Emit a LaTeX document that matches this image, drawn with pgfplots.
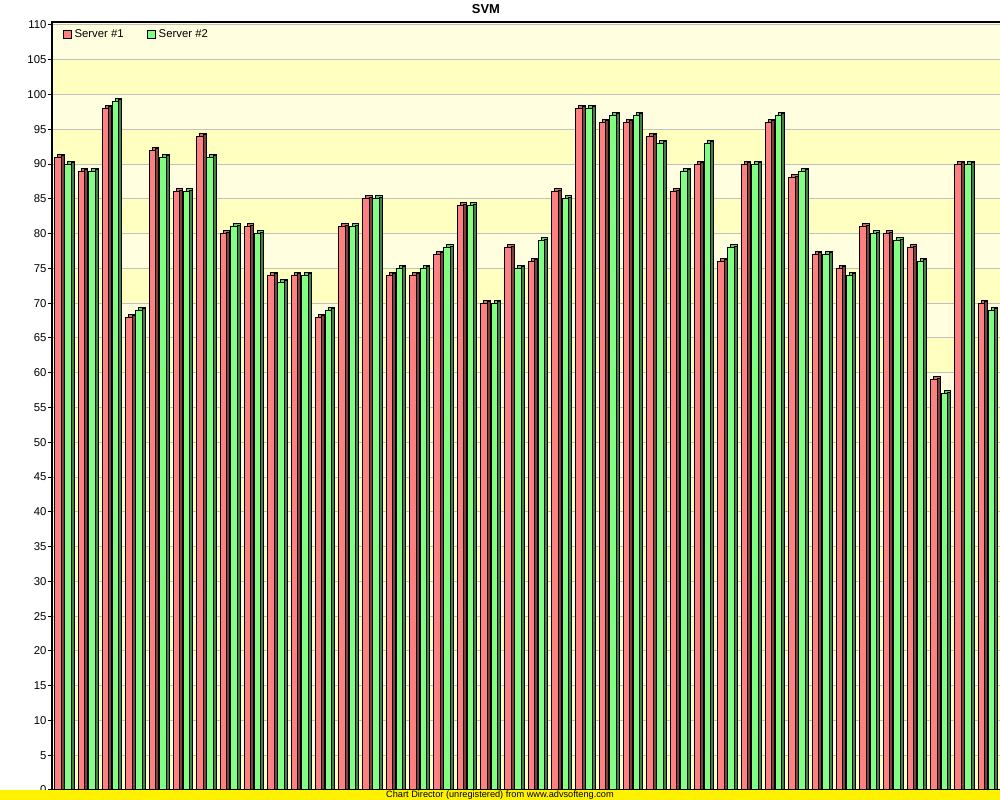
\documentclass[border=0pt]{standalone}
\usepackage{pgfplots}
\pgfplotsset{compat=1.18}
\usepackage{pgfplotstable}
\usepackage{fontspec}
\setmainfont{Liberation Sans}

\definecolor{redf}{HTML}{FF8080}
\definecolor{redt}{HTML}{D86868}
\definecolor{reds}{HTML}{804040}
\definecolor{grnf}{HTML}{80FF80}
\definecolor{grnt}{HTML}{60D060}
\definecolor{grns}{HTML}{408040}
\definecolor{bandlight}{HTML}{FFFFE0}
\definecolor{banddark}{HTML}{FFFFC0}
\definecolor{gridgray}{HTML}{C0C0C0}

% a = Server #1, b = Server #2
\pgfplotstableread{
x a b
1 91 90
2 89 89
3 98 99
4 68 69
5 92 91
6 86 86
7 94 91
8 80 81
9 81 80
10 74 73
11 74 74
12 68 69
13 81 81
14 85 85
15 74 75
16 74 75
17 77 78
18 84 84
19 70 70
20 78 75
21 76 79
22 86 85
23 98 98
24 96 97
25 96 97
26 94 93
27 86 89
28 90 93
29 76 78
30 90 90
31 96 97
32 88 89
33 77 77
34 75 74
35 81 80
36 80 79
37 78 76
38 59 57
39 90 90
40 70 69
}\scores

\begin{document}
\begin{tikzpicture}
\begin{axis}[
    at={(39pt,7.5pt)}, anchor=south west,
    scale only axis,
    width=712.2pt, height=576pt,
    set layers,
    ybar,
    xmin=0.5, xmax=40.6,
    ymin=0, ymax=110.43,
    xtick=\empty,
    ytick={0,5,...,110},
    ymajorgrids,
    grid style={draw=gridgray, line width=0.75pt},
    axis line style={black, line width=1pt},
    tick style={black, line width=0.75pt},
    major tick length=3pt,
    tick align=outside,
    ytick pos=left,
    tick label style={font=\fontsize{8.5}{10}\selectfont},
    /pgf/number format/assume math mode=true,
    yticklabel style={inner xsep=1pt},
    axis background/.style={fill=bandlight},
    legend columns=2,
    legend style={at={(0,1)}, anchor=north west, xshift=5pt, yshift=-1.5pt,
        draw=none, fill=none, font=\fontsize{8.5}{10}\selectfont,
        /tikz/every even column/.append style={column sep=15.5pt}},
  ]
  \begin{pgfonlayer}{axis background}
    \fill[banddark] (axis cs:0.5,0) rectangle (axis cs:40.6,5);
    \fill[banddark] (axis cs:0.5,10) rectangle (axis cs:40.6,15);
    \fill[banddark] (axis cs:0.5,20) rectangle (axis cs:40.6,25);
    \fill[banddark] (axis cs:0.5,30) rectangle (axis cs:40.6,35);
    \fill[banddark] (axis cs:0.5,40) rectangle (axis cs:40.6,45);
    \fill[banddark] (axis cs:0.5,50) rectangle (axis cs:40.6,55);
    \fill[banddark] (axis cs:0.5,60) rectangle (axis cs:40.6,65);
    \fill[banddark] (axis cs:0.5,70) rectangle (axis cs:40.6,75);
    \fill[banddark] (axis cs:0.5,80) rectangle (axis cs:40.6,85);
    \fill[banddark] (axis cs:0.5,90) rectangle (axis cs:40.6,95);
    \fill[banddark] (axis cs:0.5,100) rectangle (axis cs:40.6,105);
  \end{pgfonlayer}

  % Server #1: top/back, side, front
  \addplot[forget plot, fill=redt, draw=black, line width=0.75pt,
    bar width=4.875pt, bar shift=-2.2pt] table[x=x, y expr=\thisrow{a}+0.43] {\scores};
  \addplot[forget plot, fill=reds, draw=black, line width=0.75pt,
    bar width=2.25pt, bar shift=-0.89pt] table[x=x, y expr=\thisrow{a}+0.22] {\scores};
  \addplot[fill=redf, draw=black, line width=0.75pt,
    bar width=4.875pt, bar shift=-4.45pt,
    legend image code/.code={\draw[fill=redf, draw=black, line width=0.75pt] (0pt,-3pt) rectangle (6pt,3pt);}]
    table[x=x, y=a] {\scores};
  \addlegendentry{Server \#1}

  % Server #2: top/back, side, front
  \addplot[forget plot, fill=grnt, draw=black, line width=0.75pt,
    bar width=4.875pt, bar shift=5.45pt] table[x=x, y expr=\thisrow{b}+0.43] {\scores};
  \addplot[forget plot, fill=grns, draw=black, line width=0.75pt,
    bar width=2.25pt, bar shift=6.76pt] table[x=x, y expr=\thisrow{b}+0.22] {\scores};
  \addplot[fill=grnf, draw=black, line width=0.75pt,
    bar width=4.875pt, bar shift=3.2pt,
    legend image code/.code={\draw[fill=grnf, draw=black, line width=0.75pt] (0pt,-3pt) rectangle (6pt,3pt);}]
    table[x=x, y=b] {\scores};
  \addlegendentry{Server \#2}
\end{axis}
\fill[yellow] (0,0) rectangle (750pt,7.5pt);
\node[font=\fontsize{6.9}{7}\selectfont, inner sep=0pt] at (375pt,3.75pt) {Chart Director (unregistered) from www.advsofteng.com};
\node[font=\bfseries\fontsize{9.7}{11}\selectfont, inner sep=0pt] at (364.5pt,593.2pt) {SVM};
\pgfresetboundingbox
\useasboundingbox (0,0) rectangle (750pt,600pt);
\end{tikzpicture}
\end{document}
